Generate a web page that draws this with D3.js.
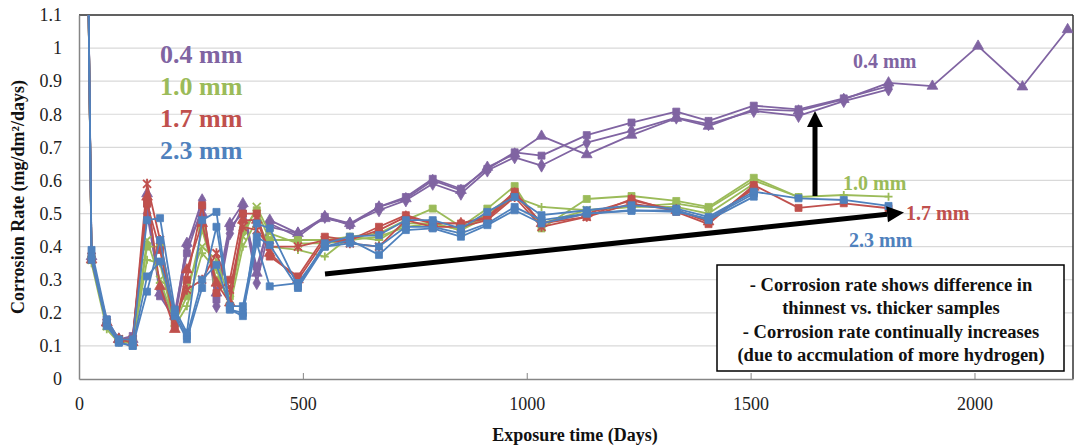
<!DOCTYPE html>
<html><head><meta charset="utf-8">
<script src="https://cdn.jsdelivr.net/npm/d3@7"></script>
<style>body{margin:0;background:#fff} svg{display:block}
text{font-family:"Liberation Serif","Tinos","Times New Roman",Times,"DejaVu Serif","Noto Serif",serif !important;}</style>
</head><body><svg id="c" width="1077" height="448"></svg>
<script>
// ---- data ----
const days = [18, 28, 62, 89, 120, 152, 181, 214, 241, 275, 307, 337, 366, 397, 426, 489, 549, 605, 670, 730, 790, 853, 912, 973, 1033, 1134, 1234, 1334, 1406, 1507, 1607, 1708, 1808, 1906, 2008, 2107, 2208];
const xTicks = [0, 500, 1000, 1500, 2000];
const yTicks = [0, 0.1, 0.2, 0.3, 0.4, 0.5, 0.6, 0.7, 0.8, 0.9, 1, 1.1];
const legendLabels = ["0.4 mm", "1.0 mm", "1.7 mm", "2.3 mm"];

const mm04_diamond = [1.5, 0.37, 0.17, 0.12, 0.12, 0.50, 0.27, 0.20, 0.40, 0.54, 0.22, 0.44, 0.52, 0.29, 0.46, 0.44, 0.49, 0.47, 0.51, 0.54, 0.59, 0.56, 0.63, 0.67, 0.645, 0.714, 0.75, 0.79, 0.77, 0.81, 0.795, 0.84, 0.875];
const mm04_square = [1.5, 0.36, 0.18, 0.12, 0.13, 0.53, 0.25, 0.18, 0.38, 0.52, 0.24, 0.46, 0.50, 0.34, 0.47, 0.43, 0.49, 0.465, 0.52, 0.55, 0.605, 0.575, 0.635, 0.685, 0.675, 0.737, 0.775, 0.808, 0.78, 0.826, 0.815, 0.848, 0.885];
const mm04_triangle = [1.5, 0.37, 0.17, 0.12, 0.12, 0.56, 0.26, 0.19, 0.41, 0.50, 0.26, 0.47, 0.53, 0.32, 0.48, 0.44, 0.485, 0.47, 0.52, 0.545, 0.60, 0.57, 0.64, 0.68, 0.734, 0.678, 0.737, 0.788, 0.764, 0.815, 0.81, 0.845, 0.895, 0.885, 1.006, 0.883, 1.056];

const mm10_square = [1.5, 0.36, 0.16, 0.12, 0.11, 0.40, 0.40, 0.17, 0.25, 0.45, 0.30, 0.25, 0.45, 0.51, 0.42, 0.42, 0.42, 0.43, 0.44, 0.48, 0.515, 0.46, 0.515, 0.583, 0.455, 0.544, 0.553, 0.538, 0.52, 0.608, 0.55];
const mm10_plus = [1.5, 0.35, 0.15, 0.11, 0.11, 0.36, 0.35, 0.16, 0.22, 0.38, 0.33, 0.22, 0.40, 0.48, 0.40, 0.39, 0.37, 0.43, 0.42, 0.47, 0.47, 0.45, 0.49, 0.55, 0.52, 0.51, 0.52, 0.53, 0.515, 0.60, 0.55, 0.556, 0.551];
const mm10_x = [1.5, 0.36, 0.16, 0.12, 0.11, 0.42, 0.30, 0.17, 0.28, 0.40, 0.36, 0.24, 0.43, 0.52, 0.44, 0.41, 0.41, 0.42, 0.43, 0.46, 0.47, 0.45, 0.50, 0.56, 0.47, 0.51, 0.52, 0.52, 0.50, 0.59];

const mm17_square = [1.5, 0.37, 0.17, 0.12, 0.12, 0.53, 0.39, 0.16, 0.30, 0.525, 0.26, 0.30, 0.50, 0.50, 0.37, 0.31, 0.43, 0.42, 0.46, 0.495, 0.47, 0.47, 0.49, 0.566, 0.47, 0.49, 0.544, 0.505, 0.468, 0.586, 0.517, 0.531, 0.516];
const mm17_star = [1.5, 0.37, 0.17, 0.12, 0.12, 0.59, 0.42, 0.19, 0.27, 0.30, 0.38, 0.27, 0.46, 0.45, 0.40, 0.40, 0.42, 0.41, 0.40, 0.48, 0.46, 0.46, 0.48, 0.55, 0.46, 0.49, 0.53, 0.51, 0.48, 0.575];
const mm17_triangle = [1.5, 0.36, 0.17, 0.12, 0.11, 0.55, 0.28, 0.15, 0.33, 0.47, 0.29, 0.23, 0.48, 0.48, 0.38, 0.30, 0.42, 0.42, 0.45, 0.49, 0.47, 0.47, 0.485, 0.56, 0.47, 0.50, 0.54, 0.51, 0.475, 0.58];

const mm23_a = [1.5, 0.39, 0.18, 0.12, 0.12, 0.48, 0.486, 0.21, 0.14, 0.48, 0.505, 0.21, 0.19, 0.47, 0.455, 0.28, 0.41, 0.43, 0.435, 0.48, 0.48, 0.455, 0.505, 0.55, 0.495, 0.51, 0.525, 0.515, 0.49, 0.566, 0.546, 0.541, 0.523];
const mm23_b = [1.5, 0.37, 0.17, 0.11, 0.10, 0.31, 0.355, 0.20, 0.13, 0.30, 0.345, 0.22, 0.22, 0.43, 0.405, 0.275, 0.40, 0.42, 0.375, 0.45, 0.455, 0.43, 0.465, 0.51, 0.47, 0.50, 0.508, 0.51, 0.48, 0.551];
const mm23_c = [1.5, 0.36, 0.16, 0.11, 0.10, 0.264, 0.42, 0.19, 0.12, 0.275, 0.46, 0.21, 0.20, 0.41, 0.28, 0.29, 0.40, 0.41, 0.40, 0.46, 0.46, 0.44, 0.47, 0.52, 0.48, 0.50, 0.51, 0.505, 0.485, 0.56];

const colors = {p: "#8064A2", g: "#9BBB59", r: "#C0504D", b: "#4F81BD"};
const series = [
  {v: mm04_diamond, c: colors.p, m: "diamond"},
  {v: mm04_square, c: colors.p, m: "square"},
  {v: mm04_triangle, c: colors.p, m: "triangle"},
  {v: mm10_x, c: colors.g, m: "x"},
  {v: mm10_plus, c: colors.g, m: "plus"},
  {v: mm10_square, c: colors.g, m: "square"},
  {v: mm17_triangle, c: colors.r, m: "triangle"},
  {v: mm17_star, c: colors.r, m: "star"},
  {v: mm17_square, c: colors.r, m: "square"},
  {v: mm23_c, c: colors.b, m: "square"},
  {v: mm23_b, c: colors.b, m: "square"},
  {v: mm23_a, c: colors.b, m: "square"}
];

// ---- layout ----
const svg = d3.select("#c");
const L = 79, R = 1073, T = 15, B = 379;
const x = d3.scaleLinear().domain([0, 2220]).range([L, R]);
const y = d3.scaleLinear().domain([0, 1.1]).range([B, T]);
const serif = "Liberation Serif, Tinos, Times New Roman, DejaVu Serif, serif";

svg.append("defs").append("clipPath").attr("id", "clip")
  .append("rect").attr("x", L).attr("y", T).attr("width", R - L).attr("height", B - T);

// grid
svg.append("g").selectAll("line").data(yTicks.slice(1)).join("line")
  .attr("x1", L).attr("x2", R).attr("y1", d => y(d)).attr("y2", d => y(d))
  .attr("stroke", "#d9d9d9").attr("stroke-width", 1.2);

// border (top/right dark)
svg.append("line").attr("x1", L).attr("x2", R).attr("y1", T).attr("y2", T).attr("stroke", "#333").attr("stroke-width", 1.5);
svg.append("line").attr("x1", R).attr("x2", R).attr("y1", T).attr("y2", B).attr("stroke", "#333").attr("stroke-width", 1.5);

// axes
const yAxis = svg.append("g").attr("transform", `translate(${L},0)`)
  .call(d3.axisLeft(y).tickValues(yTicks).tickSize(0).tickPadding(17).tickFormat(d => d3.format("~g")(d)));
yAxis.attr("font-family", null);
yAxis.select(".domain").attr("stroke", "#868686").attr("stroke-width", 1.5);
yAxis.selectAll("text").attr("font-size", 18).attr("fill", "#222");

const xAxis = svg.append("g").attr("transform", `translate(0,${B})`)
  .call(d3.axisBottom(x).tickValues(xTicks).tickSizeInner(-6).tickSizeOuter(0).tickPadding(18).tickFormat(d3.format("d")));
xAxis.attr("font-family", null);
xAxis.select(".domain").attr("stroke", "#868686").attr("stroke-width", 1.5);
xAxis.selectAll(".tick line").attr("stroke", "#868686");
xAxis.selectAll("text").attr("font-size", 18).attr("fill", "#222");

// marker shapes
function markerPath(m) {
  const s = 4;
  if (m === "square") return d3.symbol(d3.symbolSquare, 49)();
  if (m === "diamond") return d3.symbol(d3.symbolDiamond, 50)();
  if (m === "triangle") return d3.symbol(d3.symbolTriangle, 50)();
  if (m === "plus") return `M${-s},0H${s}M0,${-s}V${s}`;
  if (m === "x") return `M${-s},${-s}L${s},${s}M${-s},${s}L${s},${-s}`;
  return `M${-s},${-s}L${s},${s}M${-s},${s}L${s},${-s}M0,${-s-1}V${s+1}`;
}

const plot = svg.append("g").attr("clip-path", "url(#clip)");
const line = d3.line().x((d, i) => x(days[i])).y(d => y(d));
series.forEach(s => {
  plot.append("path").attr("d", line(s.v)).attr("fill", "none")
    .attr("stroke", s.c).attr("stroke-width", 1.8).attr("stroke-linejoin", "round");
  const filled = ["square", "diamond", "triangle"].includes(s.m);
  plot.append("g").selectAll("path").data(s.v).join("path")
    .attr("transform", (d, i) => `translate(${x(days[i])},${y(d)})`)
    .attr("d", markerPath(s.m))
    .attr("fill", filled ? s.c : "none")
    .attr("stroke", s.c).attr("stroke-width", filled ? 0.8 : 1.8);
});

// legend labels
const legColors = [colors.p, colors.g, colors.r, colors.b];
svg.append("g").selectAll("text").data(legendLabels).join("text")
  .attr("x", 160).attr("y", (d, i) => 63 + i * 32)
  .attr("font-weight", "bold").attr("font-size", 26)
  .attr("fill", (d, i) => legColors[i]).text(d => d);

// annotation labels
const annot = [
  {t: legendLabels[0], x: 853, y: 68, c: colors.p},
  {t: legendLabels[1], x: 843, y: 190, c: colors.g},
  {t: legendLabels[2], x: 906, y: 220, c: colors.r},
  {t: legendLabels[3], x: 849, y: 247, c: colors.b}
];
svg.append("g").selectAll("text").data(annot).join("text")
  .attr("x", d => d.x).attr("y", d => d.y)
  .attr("font-weight", "bold").attr("font-size", 20)
  .attr("fill", d => d.c).text(d => d.t);

// arrows
function arrow(x1, y1, x2, y2, w, hl, hw) {
  const a = Math.atan2(y2 - y1, x2 - x1);
  const bx = x2 - hl * Math.cos(a), by = y2 - hl * Math.sin(a);
  svg.append("line").attr("x1", x1).attr("y1", y1).attr("x2", bx).attr("y2", by)
    .attr("stroke", "#000").attr("stroke-width", w);
  const px = -Math.sin(a) * hw, py = Math.cos(a) * hw;
  svg.append("path").attr("d", `M${x2},${y2}L${bx + px},${by + py}L${bx - px},${by - py}Z`).attr("fill", "#000");
}
arrow(325, 274, 904, 212.5, 5, 17, 8);
arrow(815, 196, 815, 111, 5, 16, 8);

// text box
svg.append("rect").attr("x", 717).attr("y", 265).attr("width", 347).attr("height", 106)
  .attr("fill", "#fff").attr("stroke", "#000").attr("stroke-width", 1.5);
const boxLines = ["- Corrosion rate shows difference in", "thinnest vs. thicker samples",
  "- Corrosion rate continually increases", "(due to accmulation of more hydrogen)"];
svg.append("g").selectAll("text").data(boxLines).join("text")
  .attr("x", 891).attr("y", (d, i) => 291 + i * 23.3).attr("text-anchor", "middle")
  .attr("font-weight", "bold").attr("font-size", 18.5)
  .attr("fill", "#111").text(d => d);

// axis titles
svg.append("text").attr("x", 575).attr("y", 441).attr("text-anchor", "middle")
  .attr("font-weight", "bold").attr("font-size", 18)
  .attr("fill", "#111").text("Exposure time (Days)");
svg.append("text").attr("transform", "translate(24,197) rotate(-90)").attr("text-anchor", "middle")
  .attr("font-weight", "bold").attr("font-size", 18)
  .attr("fill", "#111").text("Corrosion Rate (mg/dm²/days)");
</script></body></html>
